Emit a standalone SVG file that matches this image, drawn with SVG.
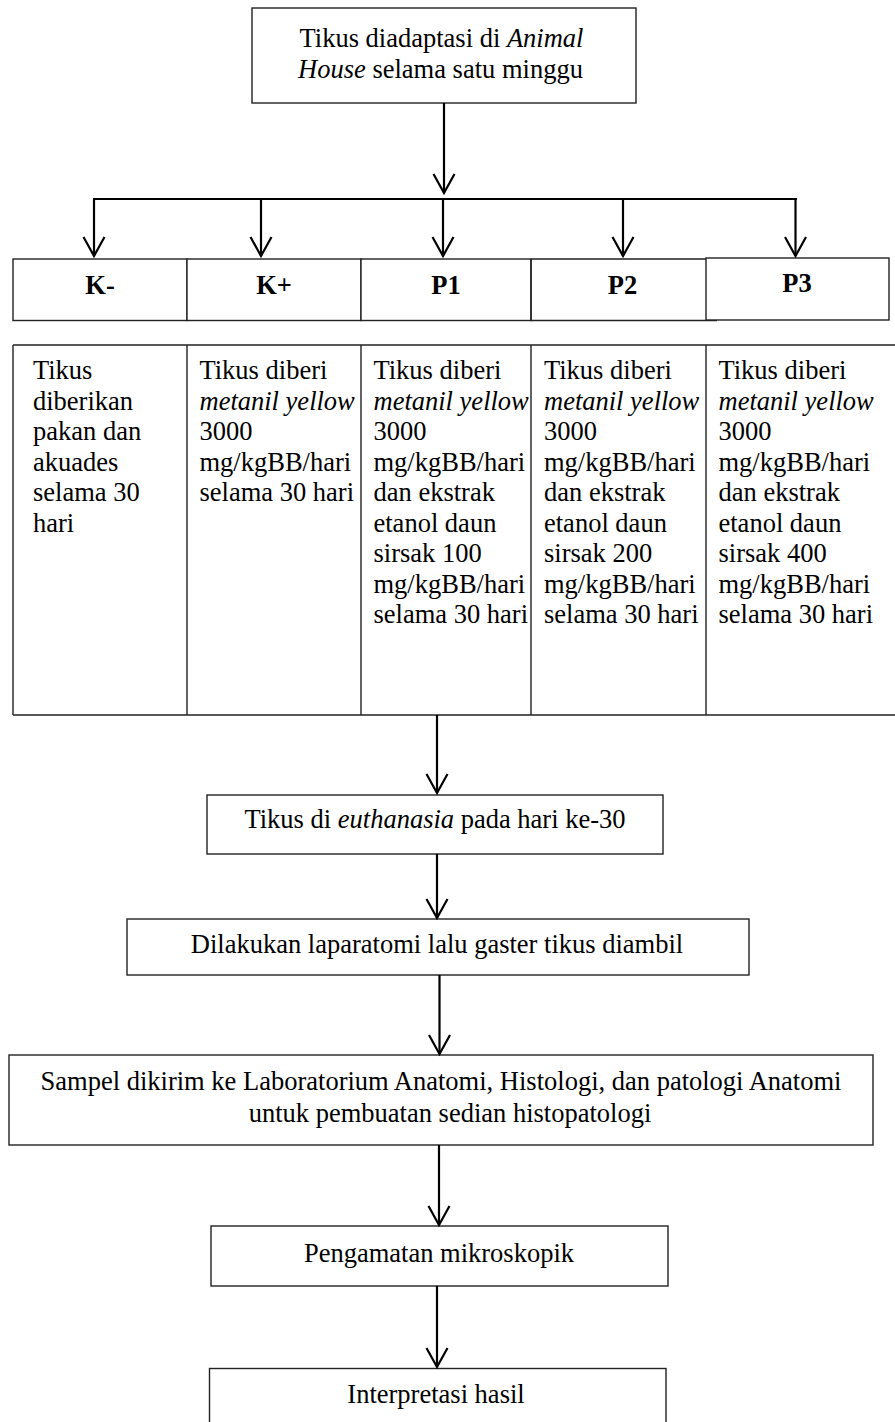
<svg xmlns="http://www.w3.org/2000/svg" width="895" height="1422" viewBox="0 0 895 1422">
<style>
text{font-family:"Liberation Serif","Times New Roman",serif;font-size:26.5px;fill:#000}
.c{text-anchor:middle}
.b{font-weight:bold}
.i{font-style:italic}
.box{fill:#fff;stroke:#222;stroke-width:1.4}
.ln{fill:none;stroke:#222;stroke-width:1.4}
.arr{fill:none;stroke:#000;stroke-width:2.2}
</style>
<defs>
<marker id="ah" markerUnits="userSpaceOnUse" viewBox="-22 -13 24 26" markerWidth="24" markerHeight="26" refX="0" refY="0" orient="auto" overflow="visible">
<path d="M-19,-10.5 L0,0 L-19,10.5" fill="none" stroke="#000" stroke-width="2.2"/>
</marker>
</defs>
<rect width="895" height="1422" fill="#fff"/>
<g id="start">
<rect class="box" x="252" y="8" width="384" height="95"/>
<text class="c" x="441.5" y="47">Tikus diadaptasi di <tspan class="i">Animal</tspan></text>
<text class="c" x="440.5" y="78"><tspan class="i">House</tspan> selama satu minggu</text>
</g>
<g id="headers">
<g id="h-kneg"><rect class="box" x="13" y="259" width="174" height="61.5"/><text class="c b" x="100" y="294">K-</text></g>
<g id="h-kpos"><rect class="box" x="187" y="259" width="174" height="61.5"/><text class="c b" x="274" y="294">K+</text></g>
<g id="h-p1"><rect class="box" x="361" y="259" width="170" height="61.5"/><text class="c b" x="446" y="294">P1</text></g>
<g id="h-p2"><path class="ln" d="M531,259 H717 M531,259 V320.5 H717"/><text class="c b" x="622.5" y="294">P2</text></g>
<g id="h-p3"><rect class="box" x="706" y="258" width="183" height="62"/><text class="c b" x="797" y="292">P3</text></g>
</g>
<g id="body">
<path class="ln" d="M13,345 H895 M13,715 H895 M13,345 V715 M187,345 V715 M361,345 V715 M531,345 V715 M706,345 V715"/>
<g id="b-kneg">
<text x="33" y="379">Tikus</text>
<text x="33" y="409.5">diberikan</text>
<text x="33" y="440">pakan dan</text>
<text x="33" y="470.5">akuades</text>
<text x="33" y="501">selama 30</text>
<text x="33" y="531.5">hari</text>
</g>
<g id="b-kpos">
<text x="199.5" y="379">Tikus diberi</text>
<text x="199.5" y="409.5" class="i">metanil yellow</text>
<text x="199.5" y="440">3000</text>
<text x="199.5" y="470.5">mg/kgBB/hari</text>
<text x="199.5" y="501">selama 30 hari</text>
</g>
<g id="b-p1">
<text x="373.5" y="379">Tikus diberi</text>
<text x="373.5" y="409.5" class="i">metanil yellow</text>
<text x="373.5" y="440">3000</text>
<text x="373.5" y="470.5">mg/kgBB/hari</text>
<text x="373.5" y="501">dan ekstrak</text>
<text x="373.5" y="531.5">etanol daun</text>
<text x="373.5" y="562">sirsak 100</text>
<text x="373.5" y="592.5">mg/kgBB/hari</text>
<text x="373.5" y="623">selama 30 hari</text>
</g>
<g id="b-p2">
<text x="544" y="379">Tikus diberi</text>
<text x="544" y="409.5" class="i">metanil yellow</text>
<text x="544" y="440">3000</text>
<text x="544" y="470.5">mg/kgBB/hari</text>
<text x="544" y="501">dan ekstrak</text>
<text x="544" y="531.5">etanol daun</text>
<text x="544" y="562">sirsak 200</text>
<text x="544" y="592.5">mg/kgBB/hari</text>
<text x="544" y="623">selama 30 hari</text>
</g>
<g id="b-p3">
<text x="718.5" y="379">Tikus diberi</text>
<text x="718.5" y="409.5" class="i">metanil yellow</text>
<text x="718.5" y="440">3000</text>
<text x="718.5" y="470.5">mg/kgBB/hari</text>
<text x="718.5" y="501">dan ekstrak</text>
<text x="718.5" y="531.5">etanol daun</text>
<text x="718.5" y="562">sirsak 400</text>
<text x="718.5" y="592.5">mg/kgBB/hari</text>
<text x="718.5" y="623">selama 30 hari</text>
</g>
</g>
<g id="euthanasia">
<rect class="box" x="207" y="795" width="456" height="59"/>
<text class="c" x="435" y="828">Tikus di <tspan class="i">euthanasia</tspan> pada hari ke-30</text>
</g>
<g id="laparatomi">
<rect class="box" x="127" y="919" width="622" height="56"/>
<text class="c" x="437" y="953">Dilakukan laparatomi lalu gaster tikus diambil</text>
</g>
<g id="sampel">
<rect class="box" x="9" y="1055" width="864" height="90"/>
<text class="c" x="441" y="1090">Sampel dikirim ke Laboratorium Anatomi, Histologi, dan patologi Anatomi</text>
<text class="c" x="450" y="1122">untuk pembuatan sedian histopatologi</text>
</g>
<g id="pengamatan">
<rect class="box" x="211" y="1226" width="457" height="60"/>
<text class="c" x="439" y="1261.5">Pengamatan mikroskopik</text>
</g>
<g id="interpretasi">
<rect class="box" x="209.5" y="1368.5" width="456.5" height="70"/>
<text class="c" x="436" y="1402.5">Interpretasi hasil</text>
</g>
<g id="connectors">
<line class="arr" x1="444" y1="103" x2="444" y2="193" marker-end="url(#ah)"/>
<line class="arr" x1="93" y1="199" x2="797" y2="199"/>
<line class="arr" x1="94" y1="199" x2="94" y2="256" marker-end="url(#ah)"/>
<line class="arr" x1="261" y1="199" x2="261" y2="256" marker-end="url(#ah)"/>
<line class="arr" x1="443" y1="199" x2="443" y2="256" marker-end="url(#ah)"/>
<line class="arr" x1="623" y1="199" x2="623" y2="256" marker-end="url(#ah)"/>
<line class="arr" x1="795.5" y1="199" x2="795.5" y2="256" marker-end="url(#ah)"/>
<line class="arr" x1="437" y1="715" x2="437" y2="793" marker-end="url(#ah)"/>
<line class="arr" x1="437" y1="854" x2="437" y2="918" marker-end="url(#ah)"/>
<line class="arr" x1="439.5" y1="975" x2="439.5" y2="1054" marker-end="url(#ah)"/>
<line class="arr" x1="439" y1="1145" x2="439" y2="1225" marker-end="url(#ah)"/>
<line class="arr" x1="437" y1="1286" x2="437" y2="1367" marker-end="url(#ah)"/>
</g>
</svg>
